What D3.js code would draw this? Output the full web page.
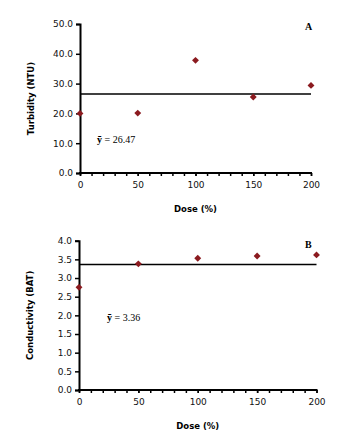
<!DOCTYPE html>
<html><head><meta charset="utf-8">
<script src="https://cdn.jsdelivr.net/npm/d3@7"></script>
<style>body{margin:0;background:#fff}svg{display:block}</style>
</head><body>
<svg id="c" width="350" height="440"></svg>
<script>
const doses = [0, 50, 100, 150, 200];
const turbidity = [20.0, 20.1, 37.8, 25.5, 29.4];
const conductivity = [2.75, 3.38, 3.53, 3.59, 3.62];
const turbidityMean = 26.47;
const conductivityMean = 3.36;
const turbidityTicks = [0, 10, 20, 30, 40, 50];
const conductivityTicks = [0, 0.5, 1, 1.5, 2, 2.5, 3, 3.5, 4];
const doseTicks = [0, 50, 100, 150, 200];

const svg = d3.select("#c");
const col = "#8b1a1f";

function panel(o) {
  const g = svg.append("g");
  const x = d3.scaleLinear().domain([0, 200]).range([o.x0, o.x1]);
  const y = d3.scaleLinear().domain([0, o.ymax]).range([o.yb, o.yt]);

  const ya = g.append("g").attr("transform", `translate(${o.x0},0)`)
    .call(d3.axisLeft(y).tickValues(o.yticks).tickFormat(d3.format(".1f")).tickSize(4).tickPadding(3));
  ya.select(".domain").attr("stroke-width", 2);
  ya.selectAll(".tick line").attr("stroke-width", 1.5);
  ya.selectAll("text").attr("font-family", "DejaVu Sans").attr("font-size", 9).attr("fill", "#111");

  const xm = g.append("g").attr("transform", `translate(0,${o.yb})`)
    .call(d3.axisBottom(x).tickValues(d3.range(0, 201, 10)).tickFormat("").tickSize(3));
  xm.select(".domain").remove();
  xm.selectAll(".tick line").attr("stroke-width", 1.5);

  const xa = g.append("g").attr("transform", `translate(0,${o.yb})`)
    .call(d3.axisBottom(x).tickValues(o.xticks).tickSize(3).tickPadding(6));
  xa.select(".domain").attr("stroke-width", 2).attr("d", `M${o.x0 - 1},0H${o.x1 + 1}`);
  xa.selectAll(".tick line").attr("stroke-width", 1.5);
  xa.selectAll("text").attr("font-family", "DejaVu Sans").attr("font-size", 9).attr("fill", "#111");

  g.append("line").attr("x1", x(0)).attr("x2", x(200))
    .attr("y1", y(o.mean)).attr("y2", y(o.mean))
    .attr("stroke", "#000").attr("stroke-width", 1.5);

  g.selectAll("path.pt").data(o.vals).enter().append("path").attr("class", "pt")
    .attr("d", d3.symbol(d3.symbolSquare, 24))
    .attr("transform", (d, i) => `translate(${x(doses[i])},${y(d)}) rotate(45)`)
    .attr("fill", col);

  g.append("text").attr("x", o.ylabX).attr("y", (o.yt + o.yb) / 2)
    .attr("transform", `rotate(-90,${o.ylabX},${(o.yt + o.yb) / 2})`)
    .attr("text-anchor", "middle").attr("dominant-baseline", "central")
    .attr("font-family", "DejaVu Sans").attr("font-weight", "bold").attr("font-size", 8.5)
    .text(o.ylabel);
  g.append("text").attr("x", (o.x0 + o.x1) / 2).attr("y", o.yb + 39)
    .attr("text-anchor", "middle")
    .attr("font-family", "DejaVu Sans").attr("font-weight", "bold").attr("font-size", 8.5)
    .text("Dose (%)");
  g.append("text").attr("x", o.letterX).attr("y", o.letterY)
    .attr("font-family", "Liberation Serif").attr("font-weight", "bold").attr("font-size", 10)
    .text(o.letter);
  const mt = g.append("text").attr("x", o.meanX).attr("y", o.meanY)
    .attr("font-family", "Liberation Serif").attr("font-size", 10);
  mt.append("tspan").attr("font-weight", "bold").text("ȳ");
  mt.append("tspan").text(" = " + o.meanText);
}

panel({x0: 80, x1: 311, yt: 24, yb: 173, ymax: 50, yticks: turbidityTicks, xticks: doseTicks,
  vals: turbidity, mean: turbidityMean, meanText: "26.47", ylabel: "Turbidity (NTU)",
  ylabX: 31, letter: "A", letterX: 305, letterY: 30, meanX: 97, meanY: 143});
panel({x0: 79, x1: 316.5, yt: 240.7, yb: 390, ymax: 4, yticks: conductivityTicks, xticks: doseTicks,
  vals: conductivity, mean: conductivityMean, meanText: "3.36", ylabel: "Conductivity (BAT)",
  ylabX: 30, letter: "B", letterX: 305, letterY: 248, meanX: 107, meanY: 321});
</script>
</body></html>
